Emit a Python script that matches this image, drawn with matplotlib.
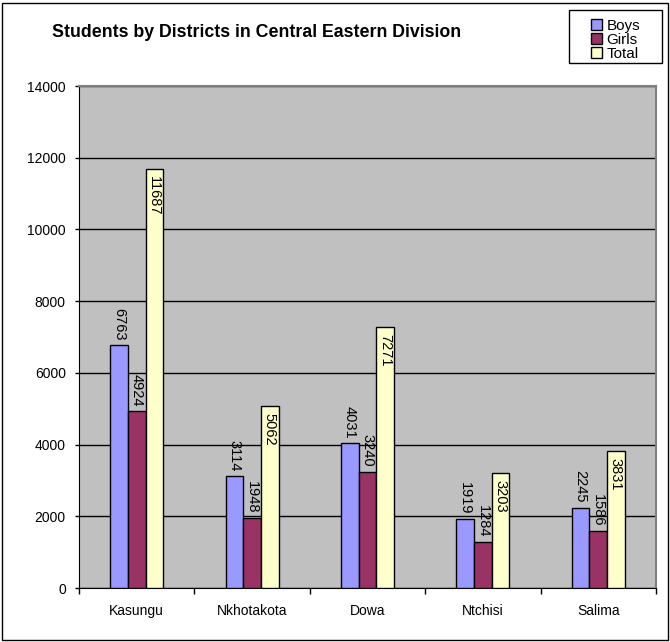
import matplotlib
matplotlib.use('Agg')
import matplotlib.pyplot as plt
import numpy as np
from matplotlib.patches import Rectangle

districts = ['Kasungu', 'Nkhotakota', 'Dowa', 'Ntchisi', 'Salima']
boys = [6763, 3114, 4031, 1919, 2245]
girls = [4924, 1948, 3240, 1284, 1586]
total = [11687, 5062, 7271, 3203, 3831]
series_names = ['Boys', 'Girls', 'Total']
colors = ['#9999FF', '#993366', '#FFFFCC']
title = 'Students by Districts in Central Eastern Division'

plt.rcParams['font.family'] = ['Liberation Sans', 'DejaVu Sans']

W, H = 670, 642
fig = plt.figure(figsize=(W / 100, H / 100), dpi=100)
ax = fig.add_axes([79 / W, 54 / H, 577 / W, 502 / H])
ax.set_facecolor('#C0C0C0')

x = np.arange(len(districts))
w = 0.153
handles = []
for i, (vals, name, c) in enumerate(zip([boys, girls, total], series_names, colors)):
    bars = ax.bar(x + (i - 1) * w, vals, w, color=c, edgecolor='black',
                  linewidth=1, label=name, zorder=3)
    handles.append(bars)
    for b, v in zip(bars, vals):
        cx = b.get_x() + b.get_width() / 2
        if name == 'Total':
            # total labels sit just inside the top of the bar
            ax.annotate(str(v), (cx, v), xytext=(0, -5), textcoords='offset points',
                        rotation=270, ha='center', va='top', fontsize=10.5, zorder=4)
        else:
            ax.annotate(str(v), (cx, v), xytext=(0, 3.5), textcoords='offset points',
                        rotation=270, ha='center', va='bottom', fontsize=10.5, zorder=4)

ax.set_xlim(-0.5, len(districts) - 0.5)
ax.set_ylim(0, 14000)
ax.set_yticks(np.arange(0, 14001, 2000))
ax.yaxis.grid(True, color='black', linewidth=1)
ax.set_axisbelow(True)

# ticks between categories, labels in the middle
ax.set_xticks(np.arange(-0.5, len(districts), 1.0))
ax.set_xticklabels([])
ax.set_xticks(x, minor=True)
ax.set_xticklabels(districts, minor=True)
ax.tick_params(axis='x', which='major', direction='out', length=4, width=1)
ax.tick_params(axis='x', which='minor', length=0, pad=11.5, labelsize=10)
ax.tick_params(axis='y', direction='out', length=3, width=1, pad=6.5, labelsize=10)

for s in ['left', 'bottom']:
    ax.spines[s].set_color('black')
for s in ['top', 'right']:
    ax.spines[s].set_color('#808080')
    ax.spines[s].set_linewidth(1.5)

fig.text(257 / W, 1 - 37 / H, title, ha='center', va='baseline',
         fontsize=12.8, weight='bold')

# legend with a square frame
fig.add_artist(Rectangle((569 / W, 1 - 63 / H), 93 / W, 53 / H,
                         transform=fig.transFigure, fill=False,
                         edgecolor='black', linewidth=1))
fig.legend(handles, series_names, loc='upper left',
           bbox_to_anchor=(580 / W, 1 - 8 / H), frameon=False, fontsize=11,
           labelspacing=0, handlelength=0.75, handleheight=0.75,
           handletextpad=0.3, borderpad=0.2)

# border around the whole chart
fig.add_artist(Rectangle((2 / W, 2 / H), 666 / W, 637 / H,
                         transform=fig.transFigure, fill=False,
                         edgecolor='black', linewidth=1))

fig.savefig('out.png', dpi=100)
